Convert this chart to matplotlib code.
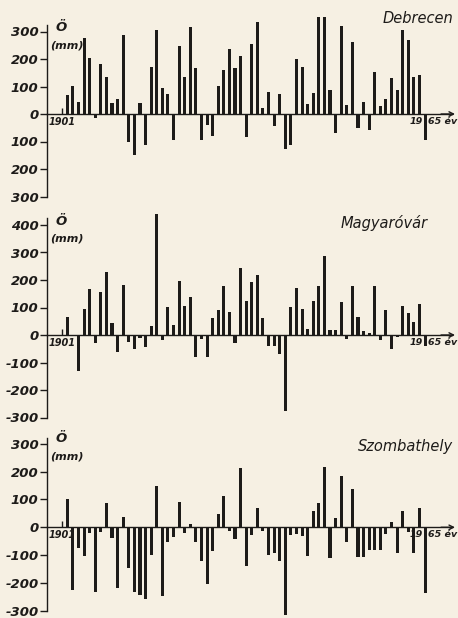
import matplotlib
matplotlib.use("Agg")
import matplotlib.pyplot as plt

# yearly precipitation anomaly (mm)
years = list(range(1901, 1966))

debrecen = [69, 101, 42, 275, 203, -16, 181, 133, 41, 54,
            288, -100, -148, 39, -112, 171, 307, 93, 71, -94,
            246, 133, 316, 169, -96, -40, -80, 101, 159, 237,
            167, 210, -84, 253, 336, 23, 81, -43, 71, -127,
            -114, 201, 171, 36, 78, 352, 352, 87, -70, 319,
            31, 261, -52, 42, -58, 153, 29, 54, 130, 89,
            304, 269, 134, 141, -94]

magyarovar = [65, 0, -130, 96, 168, -28, 157, 229, 43, -63,
              183, -24, -51, -12, -43, 33, 439, -18, 101, 37,
              195, 104, 140, -79, -16, -79, 61, 91, 180, 85,
              -30, 244, 124, 191, 220, 61, -39, -39, -70, -275,
              101, 171, 94, 21, 124, 179, 289, 18, 18, 120,
              -16, 179, 67, 16, 6, 177, -18, 91, -52, -6,
              104, 79, 49, 113, -40]

szombathely = [101, -227, -76, -104, -19, -233, -16, 89, -40, -220,
               36, -148, -233, -245, -257, -100, 147, -248, -52, -34,
               90, -22, 12, -52, -120, -205, -84, 48, 114, -12,
               -43, 212, -138, -29, 69, -14, -100, -92, -122, -317,
               -28, -24, -32, -104, 59, 87, 217, -112, 33, 184,
               -52, 137, -106, -108, -82, -82, -80, -23, 20, -92,
               57, -18, -93, 71, -235]

station_names = ["Debrecen", "Magyaróvár", "Szombathely"]

yticks_deb = [-300, -200, -100, 0, 100, 200, 300]
ylabels_deb = ["300", "200", "100", "0", "100", "200", "300"]
yticks_mag = [-300, -200, -100, 0, 100, 200, 300, 400]
ylabels_mag = ["-300", "-200", "-100", "0", "100", "200", "300", "400"]
yticks_szo = [-300, -200, -100, 0, 100, 200, 300]
ylabels_szo = ["-300", "-200", "-100", "0", "100", "200", "300"]

start_label = "1901"
end_left, end_right = "19", "65 év"
unit_label = "Ö"
unit_sub = "(mm)"

BG = "#f6f0e3"
INK = "#1d1b19"
W, H = 458, 618

# pixel layout measured on the scan
X0, STEP = 67.3, 5.59          # first bar x, spacing per year
YAXIS_PX, ARROW_PX = 47, 455


def px_to_year(px):
    return years[0] + (px - X0) / STEP


FONT = dict(family="DejaVu Sans", style="italic", weight="bold")

fig = plt.figure(figsize=(W / 100, H / 100), dpi=100, facecolor=BG)

# values, ticks, labels, band top/bottom px, zero px, px per mm,
# axis top mm, name y mm, name right px, Ö y mm, (mm) y mm
panels = [
    (debrecen, yticks_deb, ylabels_deb, 0, 205, 114, 0.275, 325, 349, 453, 316, 250),
    (magyarovar, yticks_mag, ylabels_mag, 205, 420, 335, 0.275, 425, 408, 428, 414, 350),
    (szombathely, yticks_szo, ylabels_szo, 420, 618, 527.3, 0.278, 322, 290, 453, 318, 256),
]

yaxis_x = px_to_year(YAXIS_PX)
arrow_x = px_to_year(ARROW_PX)

for i, (vals, ticks, labels, top, bot, zero, scale, axis_top, name_y, name_px, o_y, mm_y) in enumerate(panels):
    ax = fig.add_axes([0, 1 - bot / H, 1, (bot - top) / H])
    ax.patch.set_visible(False)
    ax.set_xlim(px_to_year(0), px_to_year(W))
    ax.set_ylim((zero - bot) / scale, (zero - top) / scale)

    ax.bar(years, vals, width=0.55, color=INK, linewidth=0, zorder=3)

    for side in ("top", "right"):
        ax.spines[side].set_visible(False)
    ax.spines["left"].set_position(("data", yaxis_x))
    ax.spines["left"].set_bounds(-300, axis_top)
    ax.spines["bottom"].set_position(("data", 0))
    ax.spines["bottom"].set_bounds(yaxis_x, arrow_x - 0.5)
    for side in ("left", "bottom"):
        ax.spines[side].set_color(INK)
        ax.spines[side].set_linewidth(1.0)

    ax.annotate("", xy=(arrow_x, 0), xytext=(arrow_x - 2.5, 0),
                arrowprops=dict(arrowstyle="->", color=INK, lw=1.0,
                                mutation_scale=8, shrinkA=0, shrinkB=0))

    ax.set_yticks(ticks)
    ax.set_yticklabels(labels)
    ax.tick_params(axis="y", direction="out", length=5, width=1.0, pad=1,
                   color=INK, labelcolor=INK, labelsize=9.5)
    for lbl in ax.get_yticklabels():
        lbl.set_fontstyle("italic")
        lbl.set_fontweight("bold")

    ax.set_xticks([years[0] - 1])
    ax.set_xticklabels([start_label])
    ax.tick_params(axis="x", direction="in", length=4, width=1.0, pad=2,
                   color=INK, labelcolor=INK, labelsize=7)
    for lbl in ax.get_xticklabels():
        lbl.set_fontstyle("italic")
        lbl.set_fontweight("bold")

    ax.annotate(end_left, xy=(years[-1] - 0.45, 0), xytext=(0, -2),
                textcoords="offset points", ha="right", va="top",
                fontsize=6.8, color=INK, **FONT)
    ax.annotate(end_right, xy=(years[-1] + 0.45, 0), xytext=(0, -2),
                textcoords="offset points", ha="left", va="top",
                fontsize=6.8, color=INK, **FONT)

    ax.text(px_to_year(61), o_y, unit_label, ha="center", va="center",
            fontsize=9.5, color=INK, **FONT)
    ax.text(px_to_year(50), mm_y, unit_sub, ha="left", va="center",
            fontsize=8, color=INK, **FONT)

    ax.text(px_to_year(name_px), name_y, station_names[i], ha="right", va="center",
            fontsize=10.5, style="italic", family="DejaVu Sans", color=INK)

fig.savefig("out.png", dpi=100, facecolor=BG)
